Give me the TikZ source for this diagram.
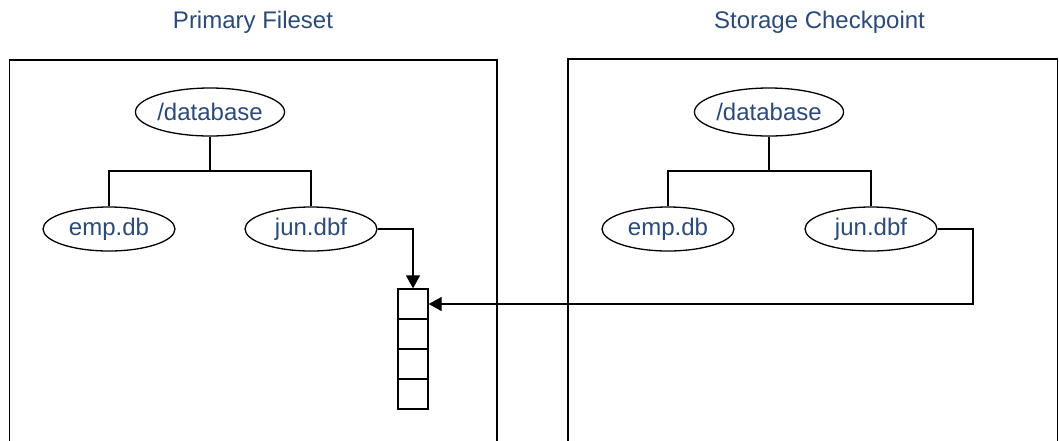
\documentclass[tikz,border=0pt]{standalone}
\usepackage{fontspec}
\setmainfont{Liberation Sans}
\usetikzlibrary{shapes.geometric,arrows.meta}
\definecolor{txtblue}{HTML}{2B4A7A}
\tikzset{
  fileell/.style={draw=black, line width=1.3pt, ellipse, inner sep=0pt, minimum width=132pt, minimum height=44pt, text=txtblue, font=\fontsize{24}{28}\selectfont},
  dbell/.style={fileell, minimum width=145pt, minimum height=48pt},
  cell/.style={draw=black, line width=1.3pt, minimum width=30pt, minimum height=30pt, inner sep=0pt},
  frame/.style={draw=black, line width=1.3pt},
  wire/.style={draw=black, line width=1.3pt},
  arr/.style={wire, -{Triangle[length=13pt,width=14pt]}},
  title/.style={text=txtblue, font=\fontsize{24}{28}\selectfont, inner sep=0pt}
}
\begin{document}
\begin{tikzpicture}[x=1pt,y=-1pt]
\useasboundingbox (0,0) rectangle (1059,440);
% frames
\draw[frame] (9.5,441) -- (9.5,60) -- (497,60) -- (497,441);
\draw[frame] (568,441) -- (568,59) -- (1057.5,59) -- (1057.5,441);
% titles
\node[title] (t1) at (253,22) {Primary Fileset};
\node[title] (t2) at (819.5,22) {Storage Checkpoint};
% left tree
\node[dbell] (db1) at (210,112) {/database};
\node[fileell] (emp1) at (109,229) {emp.db};
\node[fileell] (jun1) at (311,229) {jun.dbf};
\coordinate (b1) at (210,171);
\draw[wire] (db1.south) -- (b1);
\draw[wire] (emp1.north) |- (b1) -| (jun1.north);
% right tree
\node[dbell] (db2) at (769,112) {/database};
\node[fileell] (emp2) at (668,229) {emp.db};
\node[fileell] (jun2) at (871,229) {jun.dbf};
\coordinate (b2) at (769,171);
\draw[wire] (db2.south) -- (b2);
\draw[wire] (emp2.north) |- (b2) -| (jun2.north);
% block list
\node[cell] (c1) at (413,304) {};
\node[cell] (c2) at (413,334) {};
\node[cell] (c3) at (413,364) {};
\node[cell] (c4) at (413,394) {};
% arrows
\draw[arr] (jun1.east) -| (c1.north);
\coordinate (r1) at (973,229);
\draw[arr] (jun2.east) -- (r1) |- (c1.east);
\end{tikzpicture}
\end{document}
